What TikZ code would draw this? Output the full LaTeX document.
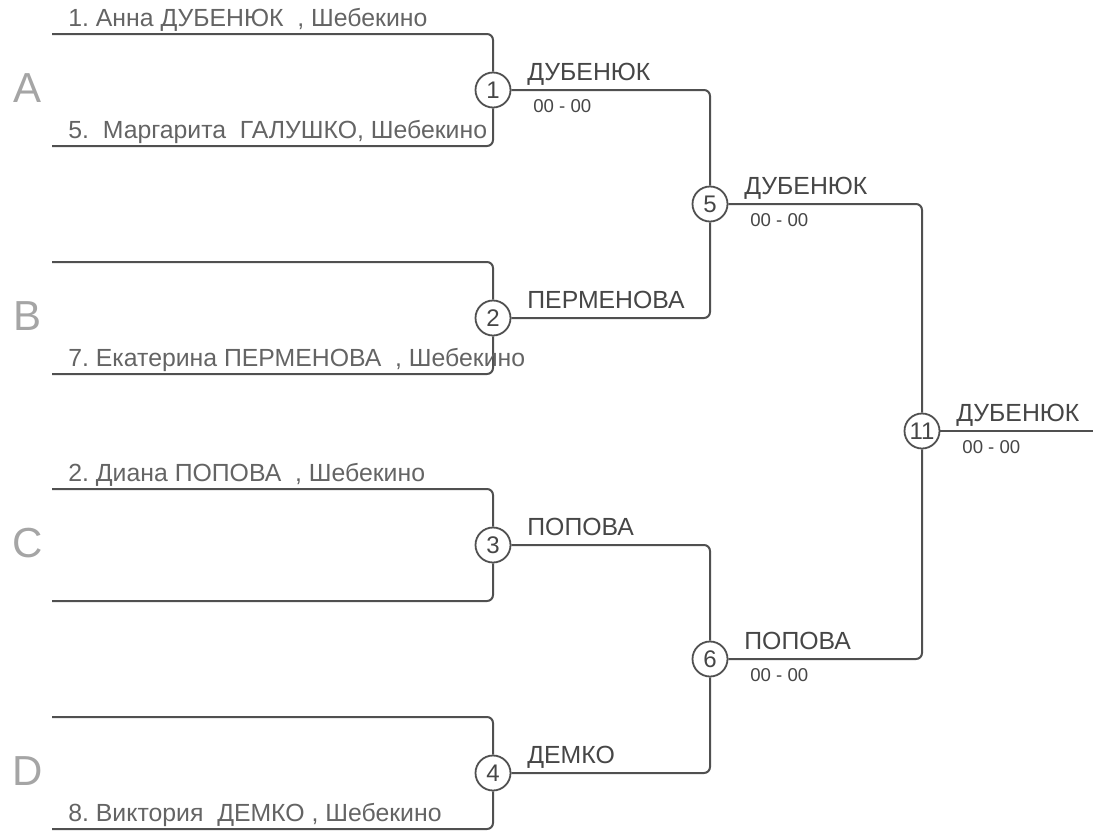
\documentclass[tikz,border=0pt]{standalone}
\usepackage{fontspec}
\setmainfont{Liberation Sans}
\usetikzlibrary{calc,positioning}
\definecolor{wiregray}{RGB}{80,80,80}
\definecolor{namegray}{RGB}{70,70,70}
\definecolor{entrygray}{RGB}{100,100,100}
\definecolor{poolgray}{RGB}{165,165,165}
\tikzset{
  wire/.style={draw=wiregray,line width=1pt,rounded corners=3pt},
  bout/.style={draw=wiregray,line width=0.9pt,circle,minimum size=17.5pt,inner sep=0pt,
               fill=white,font=\fontsize{12}{13}\selectfont,text=namegray},
  entrant/.style={anchor=base west,inner sep=0pt,font=\fontsize{12.4}{14}\selectfont,text=entrygray},
  winner/.style={anchor=base west,inner sep=0pt,font=\fontsize{12.4}{14}\selectfont,text=namegray},
  score/.style={anchor=north west,inner sep=0pt,font=\fontsize{9.3}{11}\selectfont,text=namegray},
  pool/.style={font=\fontsize{21}{24}\selectfont,text=poolgray},
}
\frenchspacing

\begin{document}
\begin{tikzpicture}[x=0.5pt,y=-0.5pt]
  \path[use as bounding box] (0,0) rectangle (1093,831);

  % first round: one bracket per pool
  \foreach \n/\yy/\pl in {1/90/A,2/318/B,3/545/C,4/773/D}{
    \node[bout] (m\n) at (493,\yy) {\n};
    \coordinate (t\n) at (52,\yy-56);
    \coordinate (b\n) at (52,\yy+56);
    \draw[wire] (t\n) -| (m\n);
    \draw[wire] (b\n) -| (m\n);
    \node[pool] (p\n) at (28,\yy-2) {\pl};
  }

  % seeded players above their lines
  \foreach \n/\side/\txt in {
    1/t/{1. Анна ДУБЕНЮК\ \ , Шебекино},
    1/b/{5.\ \ Маргарита\ \ ГАЛУШКО, Шебекино},
    2/b/{7. Екатерина ПЕРМЕНОВА\ \ , Шебекино},
    3/t/{2. Диана ПОПОВА\ \ , Шебекино},
    4/b/{8. Виктория\ \ ДЕМКО\ , Шебекино}
  }{
    \node[entrant] (e\side\n) at ($(\side\n)+(16,-8)$) {\txt};
  }

  % later rounds
  \node[bout] (m5) at (710,204) {5};
  \node[bout] (m6) at (710,659) {6};
  \node[bout] (m11) at (922,431) {11};
  \coordinate (fin) at (1093,431);

  \draw[wire] (m1) -| (m5);
  \draw[wire] (m2) -| (m5);
  \draw[wire] (m3) -| (m6);
  \draw[wire] (m4) -| (m6);
  \draw[wire] (m5) -| (m11);
  \draw[wire] (m6) -| (m11);
  \draw[wire] (m11) -- (fin);

  % winners and scores
  \foreach \n/\who in {1/ДУБЕНЮК,2/ПЕРМЕНОВА,3/ПОПОВА,4/ДЕМКО,5/ДУБЕНЮК,6/ПОПОВА,11/ДУБЕНЮК}{
    \node[winner] (w\n) at ($(m\n)+(34,-10)$) {\who};
  }
  \foreach \n in {1,5,6,11}{
    \node[score] (s\n) at ($(m\n)+(40,9)$) {00 - 00};
  }
\end{tikzpicture}
\end{document}
